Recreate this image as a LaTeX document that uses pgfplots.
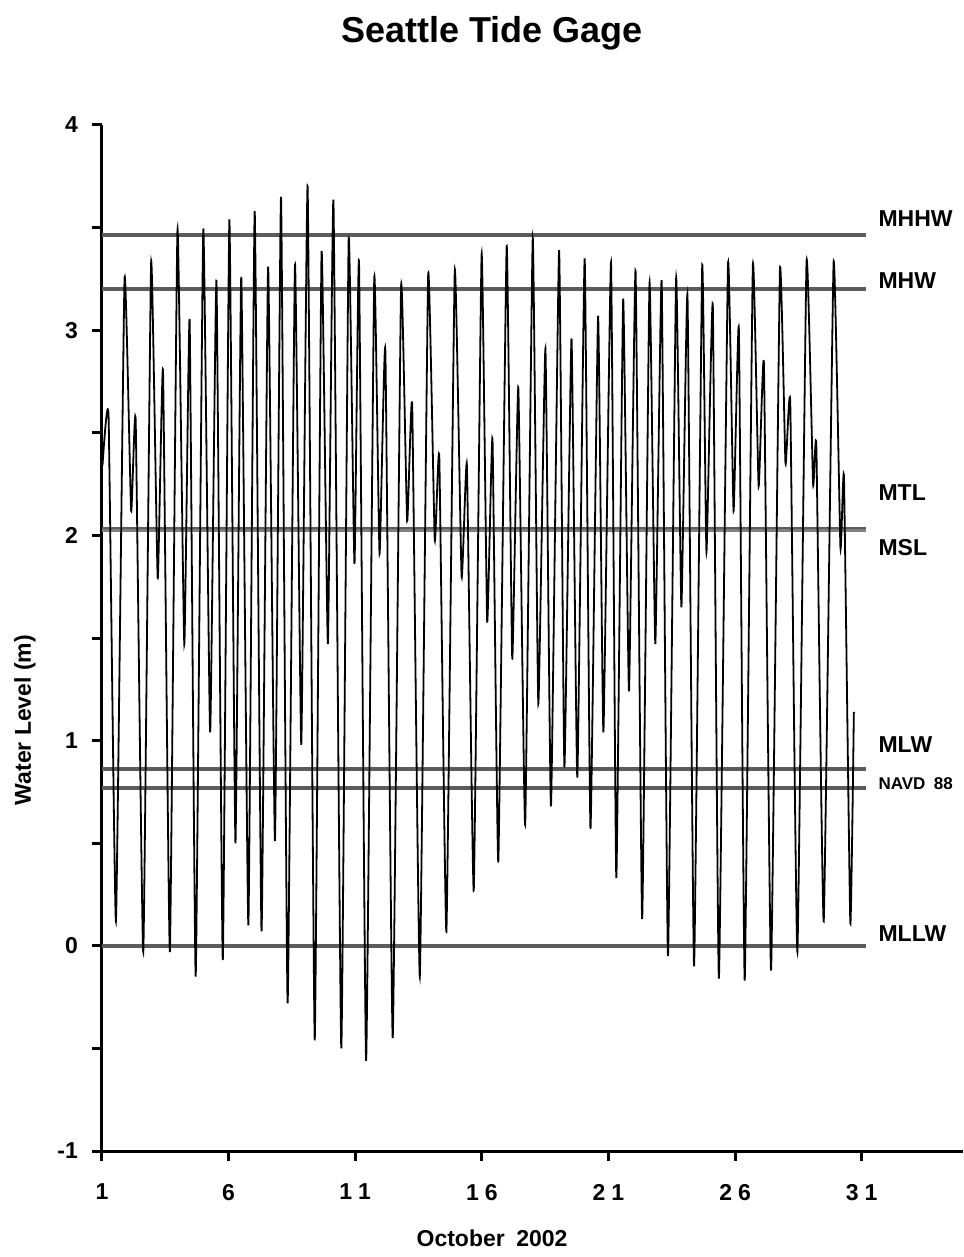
\documentclass[border=0pt]{standalone}
\usepackage{fontspec}
\setmainfont{Liberation Sans}
\usepackage{pgfplots}
\pgfplotsset{compat=1.18}
\definecolor{refgray}{HTML}{5C5C5C}
\begin{document}
\begin{tikzpicture}
\begin{axis}[
  scale only axis, width=430.5pt, height=513pt,
  xmin=1, xmax=35, ymin=-1, ymax=4,
  axis lines=left,
  axis line style={-, line width=1.5pt, black},
  tick align=outside,
  major tick length=5pt, minor tick length=5pt,
  every tick/.style={black, line width=1.5pt},
  every minor tick/.style={black, line width=1.5pt},
  xtick={1,6,11,16,21,26,31},
  xticklabels={1,6,1\hspace{3pt}1,1\hspace{3pt}6,2\hspace{3pt}1,2\hspace{3pt}6,3\hspace{3pt}1},
  ytick={-1,0,1,2,3,4},
  yticklabels={-1,0,1,2,3,4},
  minor ytick={-0.5,0.5,1.5,2.5,3.5},
  ticklabel style={font=\bfseries\fontsize{11.5}{13}\selectfont},
  xticklabel shift=8pt,
  yticklabel shift=3.5pt,
  xlabel={October\hspace{0.5em}2002},
  ylabel={Water Level (m)},
  label style={font=\bfseries\fontsize{11.5}{13}\selectfont},
  xlabel style={at={(axis description cs:0.453,-0.0848)}, anchor=center},
  ylabel style={at={(axis description cs:-0.0894,0.42)}, anchor=center, rotate=0},
  title={Seattle Tide Gage},
  title style={at={(axis description cs:0.453,1.078)}, anchor=center, font=\bfseries\fontsize{18}{21}\selectfont},
  clip=false,
]
% reference datums
\addplot[refgray, line width=2pt] coordinates {(1,3.465) (31.15,3.465)};
\addplot[refgray, line width=2pt] coordinates {(1,3.20) (31.15,3.20)};
\addplot[refgray, line width=1.1pt] coordinates {(1,2.036) (31.15,2.036)};
\addplot[gray, line width=1.1pt] coordinates {(1,2.024) (31.15,2.024)};
\addplot[refgray, line width=2pt] coordinates {(1,0.862) (31.15,0.862)};
\addplot[refgray, line width=2pt] coordinates {(1,0.77) (31.15,0.77)};
\addplot[refgray, line width=2pt] coordinates {(1,0) (31.15,0)};
% water level
\addplot[black, line width=0.9pt, smooth, tension=0.25] coordinates {
(1.02,2.34) (1.26,2.58) (1.55,0.12) (1.89,3.25) (2.15,2.12) (2.33,2.56)
(2.63,-0.03) (2.94,3.33) (3.20,1.79) (3.41,2.80) (3.68,-0.03) (3.98,3.49)
(4.25,1.47) (4.46,3.05) (4.70,-0.15) (5.00,3.49) (5.27,1.04) (5.52,3.24)
(5.77,-0.07) (6.03,3.54) (6.27,0.50) (6.50,3.26) (6.78,0.10) (7.03,3.58)
(7.30,0.07) (7.56,3.31) (7.83,0.51) (8.07,3.65) (8.33,-0.28) (8.62,3.32)
(8.87,0.98) (9.12,3.70) (9.40,-0.46) (9.67,3.38) (9.92,1.47) (10.14,3.63)
(10.45,-0.50) (10.74,3.44) (10.97,1.86) (11.15,3.33) (11.43,-0.56) (11.75,3.25)
(11.96,1.91) (12.19,2.90) (12.48,-0.45) (12.81,3.21) (13.05,2.07) (13.25,2.63)
(13.55,-0.15) (13.88,3.27) (14.14,1.98) (14.32,2.38) (14.60,0.07) (14.93,3.29)
(15.20,1.80) (15.41,2.34) (15.68,0.27) (15.99,3.37) (16.21,1.58) (16.42,2.47)
(16.65,0.41) (16.98,3.41) (17.20,1.40) (17.44,2.72) (17.71,0.59) (18.01,3.45)
(18.23,1.18) (18.51,2.91) (18.73,0.68) (19.05,3.39) (19.26,0.87) (19.54,2.96)
(19.77,0.82) (20.06,3.35) (20.29,0.57) (20.59,3.07) (20.80,1.04) (21.10,3.33)
(21.31,0.33) (21.58,3.15) (21.81,1.24) (22.07,3.29) (22.33,0.13) (22.62,3.23)
(22.85,1.47) (23.10,3.24) (23.35,-0.05) (23.67,3.25) (23.88,1.65) (24.12,3.17)
(24.38,-0.10) (24.70,3.31) (24.87,1.92) (25.12,3.12) (25.36,-0.16) (25.72,3.32)
(25.94,2.12) (26.15,3.00) (26.38,-0.17) (26.70,3.31) (26.93,2.24) (27.14,2.83)
(27.42,-0.12) (27.77,3.29) (27.99,2.35) (28.18,2.64) (28.46,-0.03) (28.82,3.33)
(29.08,2.25) (29.21,2.43) (29.50,0.12) (29.89,3.33) (30.16,1.94) (30.30,2.28)
(30.55,0.11) (30.69,1.14)
};
% datum labels
\tikzset{dl/.style={anchor=west, inner sep=0pt, font=\bfseries\fontsize{11.5}{13}\selectfont}}
\node[dl] at (axis cs:31.65,3.546) {MHHW};
\node[dl] at (axis cs:31.65,3.24) {MHW};
\node[dl] at (axis cs:31.65,2.21) {MTL};
\node[dl] at (axis cs:31.65,1.94) {MSL};
\node[dl] at (axis cs:31.65,0.98) {MLW};
\node[dl, font=\bfseries\fontsize{8.5}{10}\selectfont] at (axis cs:31.65,0.79) {NAVD\hspace{0.5em}88};
\node[dl] at (axis cs:31.65,0.06) {MLLW};
\coordinate (ll) at (rel axis cs:0,0);
\end{axis}
\pgfresetboundingbox
\path ([xshift=-51pt,yshift=-53pt]ll) rectangle ([xshift=430.5pt,yshift=575.5pt]ll);
\end{tikzpicture}
\end{document}
